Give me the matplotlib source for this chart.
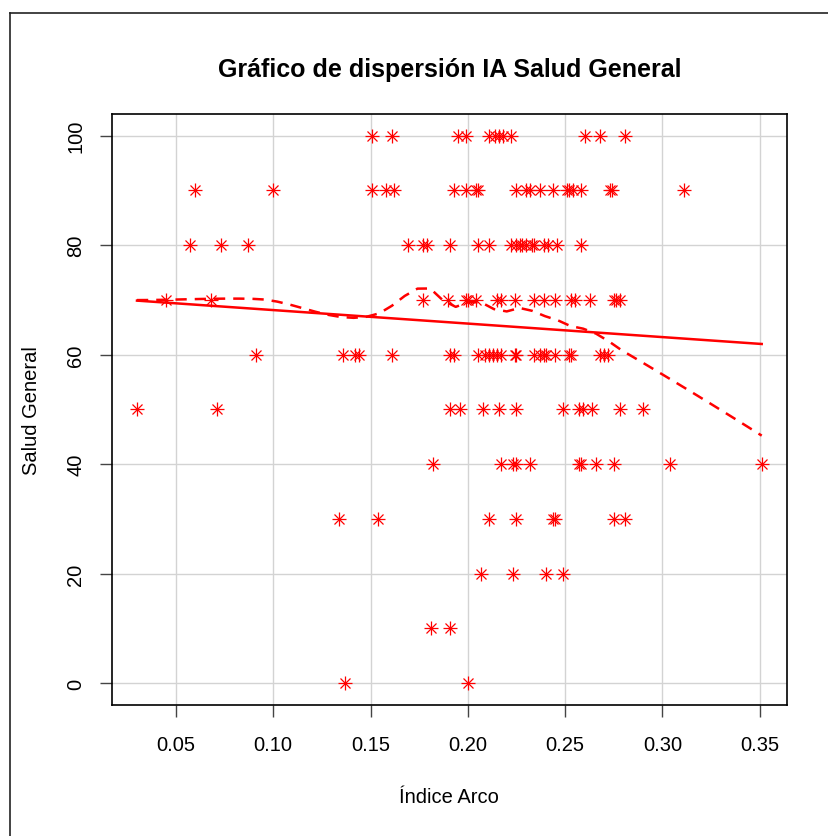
import numpy as np
import matplotlib
matplotlib.use('Agg')
import matplotlib.pyplot as plt
from matplotlib.lines import Line2D

#---DATA---
#Indice Arco values, grouped by their Salud General score
x_100 = [0.151, 0.161, 0.195, 0.199, 0.211, 0.214, 0.216, 0.218, 0.222, 0.260, 0.268, 0.281]
x_90 = [0.060, 0.100, 0.151, 0.158, 0.162, 0.193, 0.199, 0.204, 0.205, 0.225, 0.230, 0.232,
        0.237, 0.244, 0.251, 0.252, 0.254, 0.258, 0.273, 0.274, 0.311]
x_80 = [0.057, 0.073, 0.087, 0.169, 0.177, 0.179, 0.191, 0.205, 0.211, 0.222, 0.225, 0.227,
        0.228, 0.230, 0.233, 0.234, 0.239, 0.241, 0.246, 0.258]
x_70 = [0.045, 0.068, 0.177, 0.190, 0.199, 0.200, 0.204, 0.215, 0.217, 0.224, 0.234, 0.239,
        0.245, 0.253, 0.255, 0.263, 0.275, 0.276, 0.278]
x_60 = [0.091, 0.136, 0.142, 0.144, 0.161, 0.191, 0.193, 0.205, 0.209, 0.211, 0.213, 0.215,
        0.217, 0.224, 0.225, 0.234, 0.237, 0.239, 0.240, 0.245, 0.252, 0.253, 0.268, 0.270, 0.272]
x_50 = [0.030, 0.071, 0.191, 0.196, 0.208, 0.216, 0.225, 0.249, 0.257, 0.259, 0.264, 0.278, 0.290]
x_40 = [0.182, 0.217, 0.223, 0.225, 0.232, 0.257, 0.258, 0.266, 0.275, 0.304, 0.351]
x_30 = [0.134, 0.154, 0.211, 0.225, 0.244, 0.245, 0.275, 0.281]
x_20 = [0.207, 0.223, 0.240, 0.249]
x_10 = [0.181, 0.191]
x_0 = [0.137, 0.200]

levels = [100, 90, 80, 70, 60, 50, 40, 30, 20, 10, 0]
groups = [x_100, x_90, x_80, x_70, x_60, x_50, x_40, x_30, x_20, x_10, x_0]

indice = np.concatenate([np.array(g, dtype=float) for g in groups])
salud = np.concatenate([np.full(len(g), lv, dtype=float) for g, lv in zip(groups, levels)])


#---LOESS SMOOTHER (1-d version of R's loess: degree 1, symmetric family,
#   kd-tree vertices + cubic interpolation)---
def local_fit(v, x, y, rw, q):
    d = np.abs(x - v)
    h = np.sort(d)[q - 1]
    r = d / h
    w = np.where(r < 1, (1 - r ** 3) ** 3, 0.0) * rw
    X = np.column_stack([np.ones_like(x), x - v])
    sw = np.sqrt(w)
    coef = np.linalg.lstsq(X * sw[:, None], y * sw, rcond=None)[0]
    return coef[0], coef[1]


def kd_vertices(x, span, cell=0.2):
    n = len(x)
    fc = int(np.floor(n * span * cell))
    xs = np.sort(x)
    mu = 0.005 * max(xs[-1] - xs[0], 1e-10)
    verts = [xs[0] - mu, xs[-1] + mu]

    def split(l, u, vlo, vhi):
        if u - l + 1 <= fc:
            return
        m = (l + u + 2) // 2 - 1
        off = 0
        while l <= m + off < u:
            if xs[m + off] == xs[m + off + 1]:
                off = -off
                if off >= 0:
                    off += 1
            else:
                m = m + off
                break
        sv = xs[m]
        if sv == vlo or sv == vhi:
            return
        verts.append(sv)
        split(l, m, vlo, sv)
        split(m + 1, u, sv, vhi)

    split(0, n - 1, verts[0], verts[1])
    return np.sort(np.array(verts))


def surface(xe, verts, vals, slopes):
    k = np.clip(np.searchsorted(verts, xe, side='left') - 1, 0, len(verts) - 2)
    v0, v1 = verts[k], verts[k + 1]
    h = v1 - v0
    u = (xe - v0) / h
    phi0 = (1 - u) ** 2 * (1 + 2 * u)
    phi1 = u ** 2 * (3 - 2 * u)
    psi0 = u * (1 - u) ** 2
    psi1 = -u ** 2 * (1 - u)
    return phi0 * vals[k] + phi1 * vals[k + 1] + (psi0 * slopes[k] + psi1 * slopes[k + 1]) * h


def loess_line(x, y, span=0.4, iterations=4, evaluation=50):
    n = len(x)
    q = int(np.floor(n * span + 1e-5))
    verts = kd_vertices(x, span)
    rw = np.ones(n)
    for j in range(iterations):
        fits = [local_fit(v, x, y, rw, q) for v in verts]
        vals = np.array([f[0] for f in fits])
        slopes = np.array([f[1] for f in fits])
        if j == iterations - 1:
            break
        res = np.abs(y - surface(x, verts, vals, slopes))
        cmad = 6 * np.median(res)
        if cmad < 1e-300:
            break
        rw = np.where(res > 0.999 * cmad, 0.0,
                      np.where(res > 0.001 * cmad, (1 - (res / cmad) ** 2) ** 2, 1.0))
    xe = np.linspace(x.min(), x.max(), evaluation)
    return xe, surface(xe, verts, vals, slopes)


#---FIGURE---
plt.rcParams['font.family'] = ['Liberation Sans', 'DejaVu Sans']
fig = plt.figure(figsize=(8.29, 8.37), dpi=100)
ax = fig.add_axes([112 / 829, 1 - 706 / 837, (786.7 - 112) / 829, (706 - 114.7) / 837])

#outer frame (only top and left edges show in the picture)
fig.add_artist(Line2D([10 / 829, 10 / 829], [0, 1 - 14 / 837], transform=fig.transFigure,
                      color='#222222', linewidth=1.2))
fig.add_artist(Line2D([10 / 829, 1], [1 - 14 / 837, 1 - 14 / 837], transform=fig.transFigure,
                      color='#222222', linewidth=1.2))

#grid behind everything
ax.set_axisbelow(True)
ax.grid(True, color='#d3d3d3', linewidth=1.0)

#points, R pch=8 (plus + cross)
ax.plot(indice, salud, linestyle='none', marker='+', markersize=9.5,
        markeredgewidth=0.9, color='#ff0000', zorder=3)
ax.plot(indice, salud, linestyle='none', marker='x', markersize=6.8,
        markeredgewidth=0.9, color='#ff0000', zorder=3)

#linear fit over the data range
slope, intercept = np.polyfit(indice, salud, 1)
xl = np.array([indice.min(), indice.max()])
ax.plot(xl, intercept + slope * xl, color='#ff0000', linewidth=1.8, zorder=4)

#smoother, dashed
lx, ly = loess_line(indice, salud)
ax.plot(lx, ly, color='#ff0000', linewidth=1.8, dashes=(4.5, 3.2), zorder=4)

#---FORMATTING---
xr = indice.max() - indice.min()
ax.set_xlim(indice.min() - 0.04 * xr, indice.max() + 0.04 * xr)
ax.set_ylim(-4, 104)
ax.set_xticks([0.05, 0.10, 0.15, 0.20, 0.25, 0.30, 0.35])
ax.set_xticklabels(['0.05', '0.10', '0.15', '0.20', '0.25', '0.30', '0.35'])
ax.set_yticks([0, 20, 40, 60, 80, 100])
ax.set_yticklabels(['0', '20', '40', '60', '80', '100'], rotation=90, va='center')

ax.tick_params(axis='both', direction='out', length=8.6, width=1, labelsize=14.5, color='#444444')
ax.tick_params(axis='x', pad=13)
ax.tick_params(axis='y', pad=10.5)
for s in ax.spines.values():
    s.set_linewidth(1.2)
    s.set_color('black')

ax.set_title('Gráfico de dispersión IA Salud General', fontsize=18, fontweight='bold', pad=27)
ax.set_xlabel('Índice Arco', fontsize=14.5, labelpad=24)
ax.set_ylabel('Salud General', fontsize=14.5, labelpad=18)

plt.savefig('out.png', dpi=100)
